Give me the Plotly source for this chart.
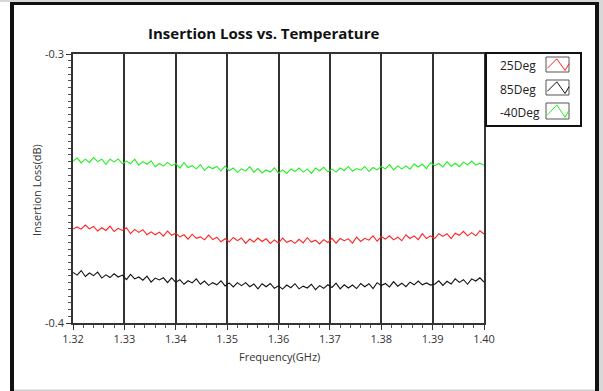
import numpy as np
import plotly.graph_objects as go

# ---------------- data ----------------
freq_start = 1.32
freq_stop = 1.40
n_points = 101
freq_ghz = np.linspace(freq_start, freq_stop, n_points)

x_tick_vals = [1.32, 1.33, 1.34, 1.35, 1.36, 1.37, 1.38, 1.39, 1.40]
x_tick_text = ["1.32", "1.33", "1.34", "1.35", "1.36", "1.37", "1.38", "1.39", "1.40"]
y_tick_vals = [-0.4, -0.3]
y_tick_text = ["-0.4", "-0.3"]

series_names = ["25Deg", "85Deg", "-40Deg"]
series_colors = ["#ff2020", "#111111", "#22ee22"]

loss_m40 = [
    -0.3399, -0.3387, -0.3405, -0.3391, -0.3403, -0.3385, -0.3400, -0.3391, -0.3410, -0.3391,
    -0.3401, -0.3390, -0.3408, -0.3398, -0.3408, -0.3391, -0.3413, -0.3400, -0.3410, -0.3397,
    -0.3419, -0.3407, -0.3417, -0.3403, -0.3415, -0.3407, -0.3424, -0.3404, -0.3422, -0.3415,
    -0.3427, -0.3411, -0.3433, -0.3419, -0.3426, -0.3418, -0.3435, -0.3417, -0.3434, -0.3424,
    -0.3440, -0.3427, -0.3435, -0.3419, -0.3439, -0.3426, -0.3442, -0.3431, -0.3439, -0.3423,
    -0.3443, -0.3431, -0.3444, -0.3427, -0.3437, -0.3424, -0.3439, -0.3428, -0.3444, -0.3424,
    -0.3434, -0.3421, -0.3438, -0.3428, -0.3439, -0.3424, -0.3433, -0.3418, -0.3436, -0.3426,
    -0.3432, -0.3418, -0.3437, -0.3422, -0.3431, -0.3418, -0.3427, -0.3411, -0.3431, -0.3416,
    -0.3427, -0.3416, -0.3428, -0.3409, -0.3420, -0.3409, -0.3426, -0.3404, -0.3415, -0.3407,
    -0.3420, -0.3400, -0.3417, -0.3406, -0.3419, -0.3402, -0.3412, -0.3398, -0.3413, -0.3406,
    -0.3414,
]

loss_25 = [
    -0.3651, -0.3643, -0.3651, -0.3636, -0.3650, -0.3641, -0.3658, -0.3646, -0.3656, -0.3640,
    -0.3660, -0.3648, -0.3656, -0.3646, -0.3668, -0.3652, -0.3663, -0.3653, -0.3672, -0.3661,
    -0.3672, -0.3662, -0.3677, -0.3658, -0.3674, -0.3666, -0.3680, -0.3672, -0.3688, -0.3670,
    -0.3685, -0.3680, -0.3691, -0.3673, -0.3690, -0.3681, -0.3698, -0.3687, -0.3698, -0.3682,
    -0.3694, -0.3684, -0.3704, -0.3688, -0.3699, -0.3684, -0.3697, -0.3687, -0.3704, -0.3691,
    -0.3703, -0.3684, -0.3700, -0.3693, -0.3704, -0.3689, -0.3702, -0.3683, -0.3699, -0.3692,
    -0.3706, -0.3690, -0.3701, -0.3685, -0.3703, -0.3686, -0.3694, -0.3687, -0.3703, -0.3681,
    -0.3697, -0.3685, -0.3692, -0.3676, -0.3696, -0.3679, -0.3688, -0.3676, -0.3691, -0.3681,
    -0.3694, -0.3672, -0.3686, -0.3676, -0.3690, -0.3668, -0.3686, -0.3676, -0.3686, -0.3668,
    -0.3678, -0.3668, -0.3686, -0.3666, -0.3674, -0.3659, -0.3676, -0.3664, -0.3676, -0.3657,
    -0.3669,
]

loss_85 = [
    -0.3812, -0.3822, -0.3805, -0.3827, -0.3814, -0.3824, -0.3811, -0.3833, -0.3821, -0.3831,
    -0.3817, -0.3829, -0.3822, -0.3839, -0.3819, -0.3836, -0.3829, -0.3841, -0.3826, -0.3848,
    -0.3833, -0.3840, -0.3832, -0.3850, -0.3832, -0.3849, -0.3839, -0.3856, -0.3843, -0.3851,
    -0.3836, -0.3856, -0.3844, -0.3860, -0.3850, -0.3858, -0.3843, -0.3862, -0.3851, -0.3866,
    -0.3850, -0.3861, -0.3850, -0.3865, -0.3855, -0.3873, -0.3854, -0.3865, -0.3853, -0.3871,
    -0.3862, -0.3874, -0.3859, -0.3869, -0.3854, -0.3873, -0.3863, -0.3870, -0.3856, -0.3876,
    -0.3861, -0.3871, -0.3858, -0.3868, -0.3852, -0.3873, -0.3858, -0.3870, -0.3859, -0.3872,
    -0.3853, -0.3865, -0.3854, -0.3872, -0.3850, -0.3861, -0.3853, -0.3866, -0.3846, -0.3863,
    -0.3852, -0.3865, -0.3848, -0.3858, -0.3844, -0.3858, -0.3851, -0.3859, -0.3856, -0.3843,
    -0.3860, -0.3845, -0.3855, -0.3836, -0.3849, -0.3839, -0.3856, -0.3836, -0.3844, -0.3832,
    -0.3848,
]

series_values = [loss_25, loss_85, loss_m40]

# ---------------- layout geometry (pixels) ----------------
W, H = 603, 391
PL, PR, PT, PB = 73, 484, 54, 323


def px_x(px):
    return (px - PL) / (PR - PL)


def px_y(py):
    return (PB - py) / (PB - PT)


fig = go.Figure()
for name, col, vals in zip(series_names, series_colors, series_values):
    fig.add_trace(go.Scatter(x=freq_ghz, y=vals, mode="lines", name=name,
                             line=dict(color=col, width=1.1), showlegend=False))

shapes = []
annotations = []


def rect(x0, x1, y0, y1, fill):
    return dict(type="rect", xref="paper", yref="paper", x0=px_x(x0), x1=px_x(x1),
                y0=px_y(y1), y1=px_y(y0), fillcolor=fill, line=dict(width=0), layer="above")


# outer frame
shapes.append(rect(10, 14, 2, 391, "#111111"))
shapes.append(rect(10, 599, 2, 5, "#111111"))
shapes.append(rect(595, 599, 2, 391, "#111111"))
shapes.append(rect(599, 603, 0, 391, "#d8d8d8"))
shapes.append(rect(0, 603, 0, 2, "#d8d8d8"))
shapes.append(rect(14, 595, 389.5, 391, "#cfcfcf"))

# legend box
shapes.append(dict(type="rect", xref="paper", yref="paper", x0=px_x(486), x1=px_x(581),
                   y0=px_y(126), y1=px_y(53), line=dict(color="#111111", width=2),
                   fillcolor="rgba(0,0,0,0)"))
legend_rows = [(57, 72, 65), (80, 95, 89), (103, 119, 112)]
for (top, bot, ty), name, col in zip(legend_rows, series_names, series_colors):
    bx0, bx1 = 546, 569
    shapes.append(dict(type="rect", xref="paper", yref="paper", x0=px_x(bx0), x1=px_x(bx1),
                       y0=px_y(bot), y1=px_y(top), line=dict(color="#555555", width=1),
                       fillcolor="white"))
    pts = [(0.06, 0.75), (0.47, 0.12), (0.83, 0.9), (1.0, 0.45)]
    path = ""
    for i, (fx, fy) in enumerate(pts):
        xx = px_x(bx0 + fx * (bx1 - bx0))
        yy = px_y(top + fy * (bot - top))
        path += ("M" if i == 0 else "L") + f"{xx:.5f},{yy:.5f} "
    shapes.append(dict(type="path", xref="paper", yref="paper", path=path.strip(),
                       line=dict(color=col, width=1)))
    annotations.append(dict(text=name, xref="paper", yref="paper", x=px_x(498), y=px_y(ty),
                            xanchor="left", yanchor="middle", showarrow=False,
                            font=dict(family="Open Sans", size=12, color="#222222")))

# title and axis titles
annotations.append(dict(text="<b>Insertion Loss vs. Temperature</b>", xref="paper", yref="paper",
                        x=px_x(264), y=px_y(33), xanchor="center", yanchor="middle",
                        showarrow=False, font=dict(family="Open Sans", size=15, color="#111111")))
annotations.append(dict(text="Frequency(GHz)", xref="paper", yref="paper",
                        x=px_x(279), y=px_y(356), xanchor="center", yanchor="middle",
                        showarrow=False, font=dict(family="Open Sans", size=11, color="#333333")))
annotations.append(dict(text="Insertion Loss(dB)", xref="paper", yref="paper", textangle=-90,
                        x=px_x(36), y=px_y(190), xanchor="center", yanchor="middle",
                        showarrow=False, font=dict(family="Open Sans", size=11, color="#333333")))

fig.update_layout(
    width=W, height=H,
    margin=dict(l=PL, r=W - PR, t=PT, b=H - PB, pad=0),
    paper_bgcolor="white", plot_bgcolor="white",
    shapes=shapes, annotations=annotations,
    xaxis=dict(range=[freq_start, freq_stop], tickvals=x_tick_vals, ticktext=x_tick_text,
               showgrid=True, gridcolor="#333333", gridwidth=1.5, zeroline=False,
               showline=True, linecolor="#333333", linewidth=1.5, mirror=True,
               ticks="outside", ticklen=5, tickcolor="#333333",
               tickfont=dict(family="Open Sans", size=11, color="#333333"),
               minor=dict(dtick=0.002, tick0=1.32, ticks="outside", ticklen=3,
                          tickcolor="#555555", showgrid=False)),
    yaxis=dict(range=[-0.4, -0.3], tickvals=y_tick_vals, ticktext=y_tick_text,
               showgrid=False, zeroline=False,
               showline=True, linecolor="#333333", linewidth=1.5, mirror=True,
               ticks="outside", ticklen=5, tickcolor="#333333",
               tickfont=dict(family="Open Sans", size=11, color="#333333"),
               minor=dict(dtick=0.0025, tick0=-0.4, ticks="outside", ticklen=3,
                          tickcolor="#555555", showgrid=False)),
)

fig.write_html("out.html", config={"displayModeBar": False},
               post_script="document.body.style.margin='0px';")
